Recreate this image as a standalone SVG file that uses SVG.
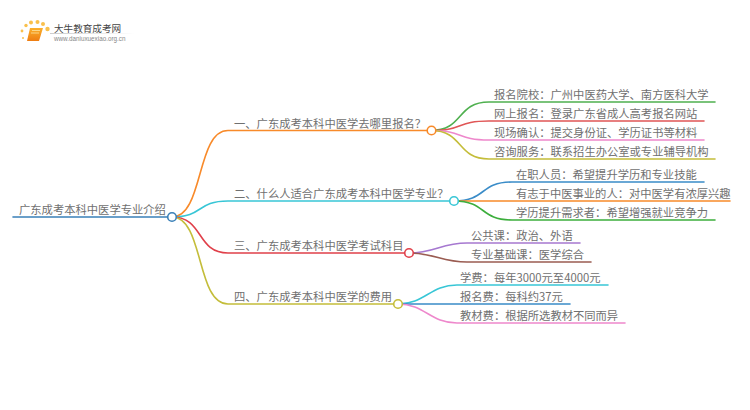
<svg xmlns="http://www.w3.org/2000/svg" width="750" height="410" viewBox="0 0 750 410">
<defs>
<style>
text{font-family:"Noto Sans CJK SC","Liberation Sans",sans-serif;font-size:11.3px;fill:#707070}
.l{fill:none;stroke-width:1.6;stroke-linecap:round}
.n{fill:#fff;stroke-width:1.6}
</style>
<linearGradient id="b" x1="0" y1="0" x2="0" y2="1"><stop offset="0" stop-color="#fbb02c"/><stop offset="1" stop-color="#ee7d12"/></linearGradient>
<linearGradient id="u" x1="0" y1="0" x2="1" y2="0"><stop offset="0" stop-color="#ccc"/><stop offset="1" stop-color="#fff"/></linearGradient>
</defs>
<rect width="750" height="410" fill="#fff"/>
<g id="logo">
<g fill="#f9c04c"><circle cx="23" cy="38" r="1"/><circle cx="22" cy="31" r="1.4"/><circle cx="26" cy="25.500" r="1.700"/><circle cx="31" cy="22.500" r="2"/><circle cx="37.500" cy="22" r="2"/><circle cx="43" cy="24" r="2"/><circle cx="47.500" cy="29" r="2.200"/></g>
<path d="M30 28H43L39 41H27Z" fill="url(#b)"/><path d="M32 30.500H40M31 33H39" stroke="#fde3a0" stroke-width="0.800" fill="none"/>
<rect x="50" y="33" width="85" height="1" fill="url(#u)"/>
<text x="54" y="31.500" style="font-size:9.600px;fill:#444">大牛教育成考网</text>
<text x="54" y="41" style="font-size:6.300px;fill:#888;font-family:'Liberation Sans',sans-serif">www.daniuxuexiao.org.cn</text>
</g>
<g id="connectors">
<path class="l" stroke="#3a80b8" d="M13 217H172"/>
<path class="l" stroke="#f88a2a" d="M172 217C204 217 196 130.500 228 130.500H431"/>
<path class="l" stroke="#38c6d6" d="M172 217C204 217 196 201 228 201H454"/>
<path class="l" stroke="#e0404a" d="M172 217C204 217 196 253 228 253H409"/>
<path class="l" stroke="#c4bd3a" d="M172 217C204 217 196 304 228 304H398"/>
<path class="l" stroke="#4fb04f" d="M431 130.500C464 130.500 456 102 489 102H715"/>
<path class="l" stroke="#e05656" d="M431 130.500C464 130.500 456 121 489 121H704"/>
<path class="l" stroke="#ee88cc" d="M431 130.500C464 130.500 456 140 489 140H704"/>
<path class="l" stroke="#c4bd3a" d="M431 130.500C464 130.500 456 159 489 159H715"/>
<path class="l" stroke="#3a8cc8" d="M454 201C487 201 479 182 512 182H704"/>
<path class="l" stroke="#f88a2a" d="M454 201C487 201 479 201 512 201H730"/>
<path class="l" stroke="#3cae3c" d="M454 201C487 201 479 220 512 220H715"/>
<path class="l" stroke="#a678d0" d="M409 253C435 253 441 243 467 243H580"/>
<path class="l" stroke="#9a5c52" d="M409 253C435 253 441 262 467 262H591"/>
<path class="l" stroke="#38c6d6" d="M398 304C425 304 430 285 457 285H608"/>
<path class="l" stroke="#3a8cc8" d="M398 304C425 304 430 304 457 304H570"/>
<path class="l" stroke="#ee88cc" d="M398 304C425 304 430 323 457 323H625"/>
</g>
<g id="root"><text x="19" y="214">广东成考本科中医学专业介绍</text><circle class="n" stroke="#3a80b8" cx="172" cy="217" r="4.300"/></g>
<g id="b1"><text x="234" y="127.500">一、广东成考本科中医学去哪里报名？</text><circle class="n" stroke="#f88a2a" cx="431.500" cy="130.500" r="4.300"/></g>
<g id="b2"><text x="234" y="198">二、什么人适合广东成考本科中医学专业？</text><circle class="n" stroke="#38c6d6" cx="454" cy="201" r="4.300"/></g>
<g id="b3"><text x="234" y="250">三、广东成考本科中医学考试科目</text><circle class="n" stroke="#e0404a" cx="409" cy="253" r="4.300"/></g>
<g id="b4"><text x="234" y="301">四、广东成考本科中医学的费用</text><circle class="n" stroke="#c4bd3a" cx="398" cy="304" r="4.300"/></g>
<g id="l11"><text x="494" y="99">报名院校：广州中医药大学、南方医科大学</text></g>
<g id="l12"><text x="494" y="118">网上报名：登录广东省成人高考报名网站</text></g>
<g id="l13"><text x="494" y="137">现场确认：提交身份证、学历证书等材料</text></g>
<g id="l14"><text x="494" y="156">咨询服务：联系招生办公室或专业辅导机构</text></g>
<g id="l21"><text x="516" y="179">在职人员：希望提升学历和专业技能</text></g>
<g id="l22"><text x="516" y="198">有志于中医事业的人：对中医学有浓厚兴趣</text></g>
<g id="l23"><text x="516" y="217">学历提升需求者：希望增强就业竞争力</text></g>
<g id="l31"><text x="471" y="240">公共课：政治、外语</text></g>
<g id="l32"><text x="471" y="259">专业基础课：医学综合</text></g>
<g id="l41"><text x="460" y="282">学费：每年3000元至4000元</text></g>
<g id="l42"><text x="460" y="301">报名费：每科约37元</text></g>
<g id="l43"><text x="460" y="320">教材费：根据所选教材不同而异</text></g>
</svg>
